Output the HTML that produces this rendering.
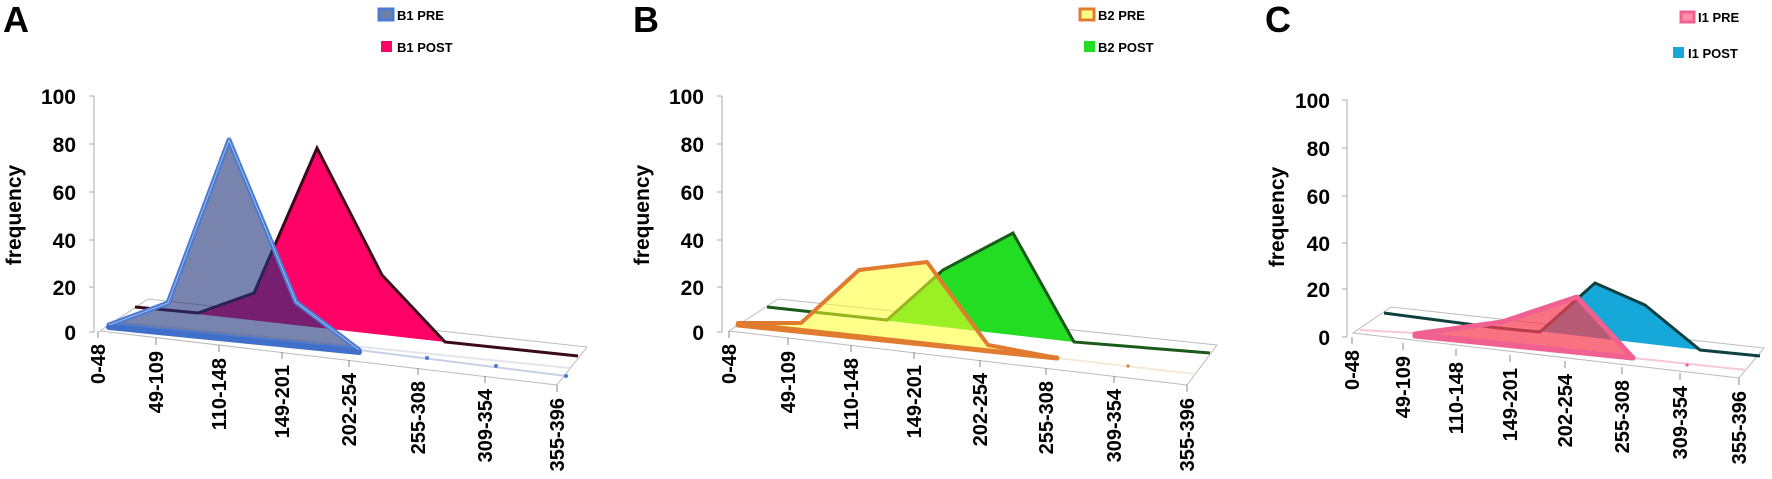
<!DOCTYPE html>
<html><head><meta charset="utf-8"><style>
html,body{margin:0;padding:0;background:#fff;}
svg{display:block;font-family:"Liberation Sans",sans-serif;font-weight:bold;}
</style></head><body>
<svg width="1772" height="479" viewBox="0 0 1772 479" xmlns="http://www.w3.org/2000/svg">
<!-- ===== Panel A ===== -->
<text x="3" y="32" font-size="36">A</text>
<rect x="379" y="9" width="14" height="11" fill="#6f80a8" stroke="#4a7bd0" stroke-width="3"/>
<text x="397" y="20" font-size="13">B1 PRE</text>
<rect x="381" y="41" width="11" height="11" fill="#ff0066"/>
<text x="397" y="52" font-size="13">B1 POST</text>
<line x1="94" y1="96" x2="94" y2="332" stroke="#aaa" stroke-width="1"/>
<g stroke="#aaa"><line x1="89" y1="96" x2="94" y2="96"/><line x1="89" y1="144" x2="94" y2="144"/><line x1="89" y1="192" x2="94" y2="192"/><line x1="89" y1="240" x2="94" y2="240"/><line x1="89" y1="287" x2="94" y2="287"/><line x1="89" y1="332" x2="94" y2="332"/></g>
<g font-size="21" text-anchor="end"><text x="76" y="104">100</text><text x="76" y="152">80</text><text x="76" y="200">60</text><text x="76" y="248">40</text><text x="76" y="295">20</text><text x="76" y="340">0</text></g>
<text transform="translate(21,215) rotate(-90)" font-size="21" text-anchor="middle">frequency</text>
<polygon points="148,299 100,331 557,385 587,347" fill="#fff" stroke="#bbb" stroke-width="1"/>
<line x1="115" y1="322" x2="570" y2="368" stroke="#e4e4f0" stroke-width="2"/>
<polygon points="135,307 198,313 254,293 317,148 382,275 445,342" fill="#ff0066"/>
<polyline points="135,307 198,313 254,293 317,148 382,275 445,342 578,356" fill="none" stroke="#3a0a1a" stroke-width="3"/>
<line x1="359" y1="350" x2="566" y2="376" stroke="#c8d0e8" stroke-width="2"/>
<circle cx="427" cy="358" r="2" fill="#4a7bd0"/><circle cx="496" cy="366" r="2" fill="#4a7bd0"/><circle cx="566" cy="376" r="2" fill="#4a7bd0"/>
<polygon points="109,325 168,303 229,140 296,302 359,350" fill="rgba(30,50,120,0.6)" stroke="#4a7bd0" stroke-width="5" stroke-linejoin="round"/>
<line x1="109" y1="327" x2="359" y2="352" stroke="#3f6fc8" stroke-width="6" stroke-linecap="round"/>
<polyline points="109,325 168,303 229,140 296,302 359,350" fill="none" stroke="#9fb8f0" stroke-width="1"/>
<g stroke="#888"><line x1="98" y1="331" x2="98" y2="338"/><line x1="156" y1="338" x2="156" y2="345"/><line x1="219" y1="345" x2="219" y2="352"/><line x1="282" y1="352" x2="282" y2="359"/><line x1="349" y1="360" x2="349" y2="367"/><line x1="418" y1="368" x2="418" y2="375"/><line x1="485" y1="376" x2="485" y2="383"/><line x1="557" y1="385" x2="557" y2="392"/></g>
<g font-size="20" text-anchor="end">
<text transform="translate(105,344) rotate(-90)">0-48</text>
<text transform="translate(163,351) rotate(-90)">49-109</text>
<text transform="translate(226,358) rotate(-90)">110-148</text>
<text transform="translate(289,365) rotate(-90)">149-201</text>
<text transform="translate(356,373) rotate(-90)">202-254</text>
<text transform="translate(425,381) rotate(-90)">255-308</text>
<text transform="translate(492,389) rotate(-90)">309-354</text>
<text transform="translate(564,398) rotate(-90)">355-396</text>
</g>

<!-- ===== Panel B ===== -->
<text x="633" y="32" font-size="36">B</text>
<rect x="1080" y="9" width="14" height="11" fill="#ffff80" stroke="#e07b30" stroke-width="3"/>
<text x="1098" y="20" font-size="13">B2 PRE</text>
<rect x="1084" y="41" width="11" height="11" fill="#22dd22"/>
<text x="1098" y="52" font-size="13">B2 POST</text>
<line x1="722" y1="96" x2="722" y2="332" stroke="#aaa"/>
<g stroke="#aaa"><line x1="717" y1="96" x2="722" y2="96"/><line x1="717" y1="144" x2="722" y2="144"/><line x1="717" y1="192" x2="722" y2="192"/><line x1="717" y1="240" x2="722" y2="240"/><line x1="717" y1="287" x2="722" y2="287"/><line x1="717" y1="332" x2="722" y2="332"/></g>
<g font-size="21" text-anchor="end"><text x="704" y="104">100</text><text x="704" y="152">80</text><text x="704" y="200">60</text><text x="704" y="248">40</text><text x="704" y="295">20</text><text x="704" y="340">0</text></g>
<text transform="translate(649,215) rotate(-90)" font-size="21" text-anchor="middle">frequency</text>
<polygon points="778,299 729,331 1187,385 1217,345" fill="#fff" stroke="#bbb"/>
<line x1="1057" y1="358" x2="1195" y2="374" stroke="#f4ead8" stroke-width="2"/>
<circle cx="1128" cy="366" r="1.6" fill="#e07b30"/>
<polygon points="767,307 887,320 943,270 1013,233 1074,342" fill="#22dd22"/>
<polyline points="767,307 887,320 943,270 1013,233 1074,342 1210,353" fill="none" stroke="#1a5a1a" stroke-width="3"/>
<polygon points="738,323 801,323 859,270 927,262 988,345 1057,358" fill="rgba(255,255,40,0.55)" stroke="#e07b30" stroke-width="4" stroke-linejoin="round"/>
<line x1="738" y1="325" x2="1057" y2="358" stroke="#e07b30" stroke-width="5" stroke-linecap="round"/>
<g stroke="#888"><line x1="729" y1="331" x2="729" y2="338"/><line x1="788" y1="338" x2="788" y2="345"/><line x1="851" y1="345" x2="851" y2="352"/><line x1="914" y1="352" x2="914" y2="359"/><line x1="980" y1="360" x2="980" y2="367"/><line x1="1046" y1="368" x2="1046" y2="375"/><line x1="1114" y1="376" x2="1114" y2="383"/><line x1="1187" y1="385" x2="1187" y2="392"/></g>
<g font-size="20" text-anchor="end">
<text transform="translate(736,344) rotate(-90)">0-48</text>
<text transform="translate(795,351) rotate(-90)">49-109</text>
<text transform="translate(858,358) rotate(-90)">110-148</text>
<text transform="translate(921,365) rotate(-90)">149-201</text>
<text transform="translate(987,373) rotate(-90)">202-254</text>
<text transform="translate(1053,381) rotate(-90)">255-308</text>
<text transform="translate(1121,389) rotate(-90)">309-354</text>
<text transform="translate(1194,398) rotate(-90)">355-396</text>
</g>

<!-- ===== Panel C ===== -->
<text x="1265" y="32" font-size="36">C</text>
<rect x="1681" y="12" width="13" height="10" fill="#ff90a8" stroke="#f06090" stroke-width="3"/>
<text x="1698" y="22" font-size="13">I1 PRE</text>
<rect x="1673" y="47" width="11" height="11" fill="#15a8d8"/>
<text x="1688" y="58" font-size="13">I1 POST</text>
<line x1="1347" y1="100" x2="1347" y2="337" stroke="#aaa"/>
<g stroke="#aaa"><line x1="1342" y1="100" x2="1347" y2="100"/><line x1="1342" y1="148" x2="1347" y2="148"/><line x1="1342" y1="196" x2="1347" y2="196"/><line x1="1342" y1="243" x2="1347" y2="243"/><line x1="1342" y1="289" x2="1347" y2="289"/><line x1="1342" y1="337" x2="1347" y2="337"/></g>
<g font-size="21" text-anchor="end"><text x="1330" y="108">100</text><text x="1330" y="156">80</text><text x="1330" y="204">60</text><text x="1330" y="251">40</text><text x="1330" y="297">20</text><text x="1330" y="345">0</text></g>
<text transform="translate(1284,217) rotate(-90)" font-size="21" text-anchor="middle">frequency</text>
<polygon points="1391,307 1353,333 1739,378 1764,348" fill="#fff" stroke="#bbb"/>
<line x1="1360" y1="330" x2="1414" y2="333" stroke="#f8c8d4" stroke-width="2"/>
<line x1="1633" y1="358" x2="1746" y2="370" stroke="#f8c8d4" stroke-width="2"/>
<circle cx="1687" cy="365" r="1.6" fill="#f06090"/>
<polygon points="1384,313 1498,328 1540,332 1595,283 1645,305 1700,350" fill="#15a8d8"/>
<polyline points="1384,313 1498,328 1540,332 1595,283 1645,305 1700,350 1760,356" fill="none" stroke="#0f4040" stroke-width="3"/>
<polygon points="1415,334 1502,322 1577,297 1633,358" fill="rgba(245,60,80,0.72)" stroke="#f06090" stroke-width="5" stroke-linejoin="round"/>
<line x1="1415" y1="336" x2="1633" y2="358" stroke="#f06090" stroke-width="5" stroke-linecap="round"/>
<g stroke="#888"><line x1="1352" y1="337" x2="1352" y2="344"/><line x1="1403" y1="343" x2="1403" y2="350"/><line x1="1456" y1="349" x2="1456" y2="356"/><line x1="1510" y1="355" x2="1510" y2="362"/><line x1="1565" y1="361" x2="1565" y2="368"/><line x1="1622" y1="367" x2="1622" y2="374"/><line x1="1680" y1="373" x2="1680" y2="380"/><line x1="1739" y1="378" x2="1739" y2="385"/></g>
<g font-size="20" text-anchor="end">
<text transform="translate(1359,350) rotate(-90)">0-48</text>
<text transform="translate(1410,356) rotate(-90)">49-109</text>
<text transform="translate(1463,362) rotate(-90)">110-148</text>
<text transform="translate(1517,368) rotate(-90)">149-201</text>
<text transform="translate(1572,374) rotate(-90)">202-254</text>
<text transform="translate(1629,380) rotate(-90)">255-308</text>
<text transform="translate(1687,386) rotate(-90)">309-354</text>
<text transform="translate(1746,391) rotate(-90)">355-396</text>
</g>
</svg>
</body></html>
